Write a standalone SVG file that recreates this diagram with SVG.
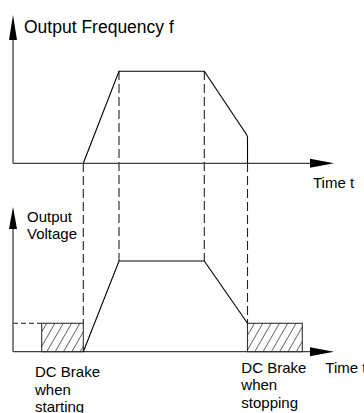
<svg xmlns="http://www.w3.org/2000/svg" width="364" height="413" viewBox="0 0 364 413">
<style>
.axis{stroke:#404040;stroke-width:1.3;fill:none}
.curve{stroke:#000;stroke-width:1.1;fill:none}
.dash{stroke:#222;stroke-width:1.1;fill:none;stroke-dasharray:9 4}
.arrow{fill:#000;stroke:none}
.box{stroke:#333;stroke-width:1.1;fill:url(#hatch)}
text{font-family:"Liberation Sans",Arial,sans-serif;font-size:15px;fill:#000}
</style>
<defs>
<pattern id="hatch" patternUnits="userSpaceOnUse" width="7.2" height="10" patternTransform="rotate(30)">
<line x1="0" y1="-1" x2="0" y2="11" stroke="#000" stroke-width="1.1"/>
</pattern>
</defs>
<g id="connectors">
<line class="dash" x1="83.3" y1="163" x2="83.3" y2="323"/>
<line class="dash" x1="119" y1="71" x2="119" y2="261"/>
<line class="dash" x1="204.3" y1="71" x2="204.3" y2="261"/>
<line class="dash" x1="247.5" y1="163" x2="247.5" y2="323"/>
<line x1="13" y1="323.3" x2="41.7" y2="323.3" stroke="#222" stroke-width="1.1" stroke-dasharray="5 3"/>
</g>
<g id="top-axes">
<line class="axis" x1="13" y1="30" x2="13" y2="163.3"/>
<polygon class="arrow" points="13,15 17,40 9,40"/>
<line class="axis" x1="13" y1="163.3" x2="320" y2="163.3"/>
<polygon class="arrow" points="334,163.3 310,158.8 310,167.8"/>
</g>
<g id="frequency-curve">
<polyline class="curve" points="83.3,163.3 119,71.3 204.3,71.3 246.5,134.5 247.5,137 247.5,163.3"/>
</g>
<g id="bottom-axes">
<line class="axis" x1="13" y1="220" x2="13" y2="351.7"/>
<polygon class="arrow" points="13,207 17,229 9,229"/>
<line class="axis" x1="13" y1="351.7" x2="320" y2="351.7"/>
<polygon class="arrow" points="334,351.7 310,347.2 310,356.2"/>
</g>
<g id="brake-start">
<rect class="box" x="41.7" y="323.3" width="41.6" height="28.4"/>
</g>
<g id="brake-stop">
<rect class="box" x="247.5" y="323.3" width="54.8" height="28.4"/>
</g>
<g id="voltage-curve">
<polyline class="curve" points="83.3,351.7 119,261 204.3,261 247.5,323.3"/>
</g>
<g id="labels">
<text x="24" y="33" style="font-size:17.5px">Output Frequency f</text>
<text x="313" y="188">Time t</text>
<text x="27" y="221.7">Output</text>
<text x="27" y="239.3">Voltage</text>
<text x="35" y="376.7">DC Brake</text>
<text x="35" y="394.5">when</text>
<text x="35" y="412.3">starting</text>
<text x="241.3" y="372.7">DC Brake</text>
<text x="241.3" y="390.3">when</text>
<text x="241.3" y="407.9">stopping</text>
<text x="325.3" y="372.7">Time t</text>
</g>
</svg>
